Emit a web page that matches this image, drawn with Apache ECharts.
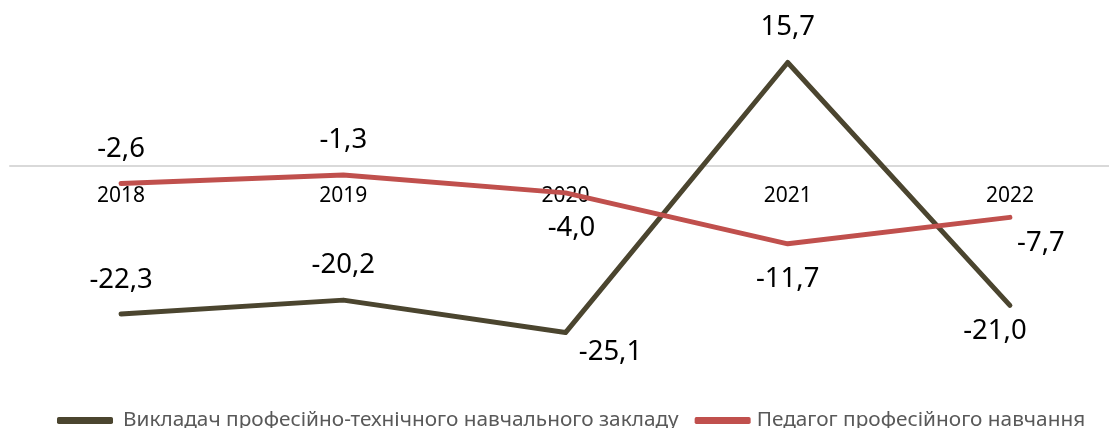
<!DOCTYPE html>
<html>
<head>
    <meta charset="UTF-8">
    <title>Викладачі та педагоги, зміна, %</title>
    <script src="https://cdn.jsdelivr.net/npm/echarts/dist/echarts.min.js"></script>
    <style>
        html, body { margin: 0; padding: 0; background: #fff; }
    </style>
</head>
<body>
    <div id="chart" style="width: 1109px; height: 428px;"></div>

    <script type="text/javascript">
        var chart = echarts.init(document.getElementById('chart'));

        // дані
        var years = ['2018', '2019', '2020', '2021', '2022'];
        var teacherName = 'Викладач професійно-технічного навчального закладу';
        var teacherValues = [-22.3, -20.2, -25.1, 15.7, -21.0];
        var pedagogName = 'Педагог професійного навчання';
        var pedagogValues = [-2.6, -1.3, -4.0, -11.7, -7.7];

        // зсуви підписів відносно точки
        var teacherOffsets = [[0, -34], [0, -35], [45, 20], [0, -35], [-15, 26]];
        var pedagogOffsets = [[0, -34], [0, -35], [6, 35], [0, 35], [31, 26]];

        var FONT = 'Noto Sans';

        function withLabels(values, offsets) {
            return values.map(function (v, i) {
                return {
                    value: v,
                    label: { offset: offsets[i] }
                };
            });
        }

        function fmt(p) {
            return p.value.toFixed(1).replace('.', ',');
        }

        var labelStyle = {
            show: true,
            position: 'inside',
            align: 'center',
            verticalAlign: 'middle',
            fontFamily: FONT,
            fontSize: 27.5,
            color: '#000',
            formatter: fmt
        };

        var option = {
            animation: false,
            grid: {
                left: 10,
                width: 1111,
                top: 34,
                height: 331,
                outerBoundsMode: 'none',
                containLabel: false
            },
            legend: {
                top: 405,
                left: 52,
                itemWidth: 56,
                itemHeight: 7,
                itemGap: 16,
                icon: 'roundRect',
                textStyle: {
                    fontFamily: FONT,
                    fontSize: 20.8,
                    color: '#595959',
                    padding: [0, 0, 0, 5]
                },
                data: [
                    { name: teacherName },
                    { name: pedagogName, textStyle: { padding: [0, 0, 0, 1] } }
                ]
            },
            xAxis: {
                type: 'category',
                data: years,
                boundaryGap: true,
                offset: -199,
                axisLine: { onZero: false, lineStyle: { color: '#d9d9d9', width: 2 } },
                axisTick: { show: false },
                axisLabel: {
                    margin: 20,
                    fontFamily: FONT,
                    fontSize: 21,
                    color: '#000'
                },
                z: 0
            },
            yAxis: {
                type: 'value',
                min: -30,
                max: 20,
                show: false,
                splitLine: { show: false }
            },
            series: [
                {
                    name: teacherName,
                    type: 'line',
                    data: withLabels(teacherValues, teacherOffsets),
                    symbol: 'circle',
                    symbolSize: 1,
                    itemStyle: { color: '#4b452f' },
                    lineStyle: { color: '#4b452f', width: 5, cap: 'round', join: 'round' },
                    label: labelStyle
                },
                {
                    name: pedagogName,
                    type: 'line',
                    data: withLabels(pedagogValues, pedagogOffsets),
                    symbol: 'circle',
                    symbolSize: 1,
                    itemStyle: { color: '#c0504d' },
                    lineStyle: { color: '#c0504d', width: 5, cap: 'round', join: 'round' },
                    label: labelStyle
                }
            ]
        };

        chart.setOption(option);
    </script>
</body>
</html>
